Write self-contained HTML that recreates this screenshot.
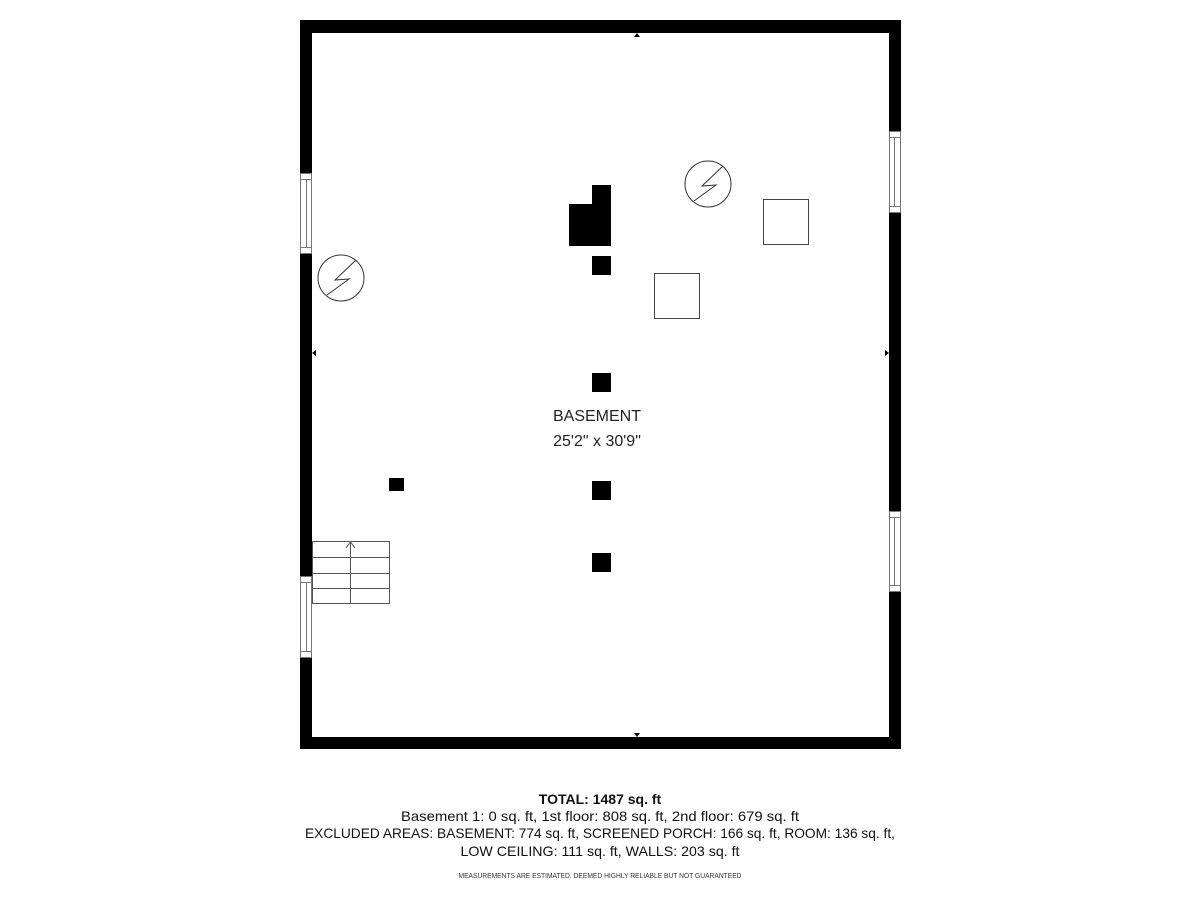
<!DOCTYPE html>
<html><head><style>html,body{margin:0;padding:0;background:#fff;}</style></head>
<body>
<svg width="1200" height="900" viewBox="0 0 1200 900" xmlns="http://www.w3.org/2000/svg" font-family="'Liberation Sans', sans-serif">
<rect width="1200" height="900" fill="#fff"/>
<!-- walls -->
<path fill="#000" fill-rule="evenodd" d="M300,20 H901 V749 H300 Z M312,33 V737 H889 V33 Z"/>
<!-- windows -->
<g fill="#fff" stroke="#777" stroke-width="1">
<rect x="300.5" y="173.5" width="11" height="80"/>
<rect x="300.5" y="576.5" width="11" height="81"/>
<rect x="889.5" y="131.5" width="11" height="81"/>
<rect x="889.5" y="511.5" width="11" height="80"/>
</g>
<g stroke="#777" stroke-width="1">
<line x1="300" y1="179.5" x2="312" y2="179.5"/><line x1="300" y1="247.5" x2="312" y2="247.5"/><line x1="306.5" y1="180" x2="306.5" y2="247"/>
<line x1="300" y1="582.5" x2="312" y2="582.5"/><line x1="300" y1="651.5" x2="312" y2="651.5"/><line x1="306.5" y1="583" x2="306.5" y2="651"/>
<line x1="889" y1="137.5" x2="901" y2="137.5"/><line x1="889" y1="206.5" x2="901" y2="206.5"/><line x1="894.5" y1="138" x2="894.5" y2="206"/>
<line x1="889" y1="517.5" x2="901" y2="517.5"/><line x1="889" y1="585.5" x2="901" y2="585.5"/><line x1="894.5" y1="518" x2="894.5" y2="585"/>
</g>
<!-- small markers -->
<g fill="#000">
<polygon points="634,37 640,37 637,33"/>
<polygon points="634,733 640,733 637,737"/>
<polygon points="316,350 316,356 312,353"/>
<polygon points="885,350 885,356 889,353"/>
</g>
<!-- chimney & posts -->
<g fill="#000">
<polygon points="569,204 592,204 592,185 611,185 611,246 569,246"/>
<rect x="592" y="256" width="19" height="19"/>
<rect x="592" y="373" width="19" height="19"/>
<rect x="592" y="481" width="19" height="19"/>
<rect x="592" y="553" width="19" height="19"/>
<rect x="389" y="478" width="15" height="13"/>
</g>
<!-- boxes -->
<g fill="none" stroke="#444" stroke-width="1">
<rect x="763.5" y="199.5" width="45" height="45"/>
<rect x="654.5" y="273.5" width="45" height="45"/>
</g>
<!-- water heater symbols -->
<g fill="none" stroke="#333" stroke-width="1">
<circle cx="708" cy="184" r="23"/>
<polyline points="694,201 716,185 702,186 723,166"/>
<circle cx="341" cy="278" r="23"/>
<polyline points="327,295 349,279 335,280 356,260"/>
</g>
<!-- stairs -->
<g fill="none" stroke="#555" stroke-width="1">
<rect x="312.5" y="541.5" width="77" height="62"/>
<line x1="312" y1="557.5" x2="390" y2="557.5"/>
<line x1="312" y1="573.5" x2="390" y2="573.5"/>
<line x1="312" y1="588.5" x2="390" y2="588.5"/>
<line x1="350.5" y1="542" x2="350.5" y2="603"/>
<polyline points="346,548 350.5,542 355,548"/>
</g>
<!-- labels -->
<text x="597" y="421" text-anchor="middle" font-size="16" fill="#222">BASEMENT</text>
<text x="597" y="446" text-anchor="middle" font-size="16" fill="#222">25'2" x 30'9"</text>
<text x="600" y="804" text-anchor="middle" font-size="14" font-weight="bold" fill="#111">TOTAL: 1487 sq. ft</text>
<text x="600" y="821" text-anchor="middle" font-size="14" fill="#111" textLength="398" lengthAdjust="spacingAndGlyphs">Basement 1: 0 sq. ft, 1st floor: 808 sq. ft, 2nd floor: 679 sq. ft</text>
<text x="600" y="838" text-anchor="middle" font-size="14" fill="#111" textLength="590" lengthAdjust="spacingAndGlyphs">EXCLUDED AREAS: BASEMENT: 774 sq. ft, SCREENED PORCH: 166 sq. ft, ROOM: 136 sq. ft,</text>
<text x="600" y="856" text-anchor="middle" font-size="14" fill="#111" textLength="279" lengthAdjust="spacingAndGlyphs">LOW CEILING: 111 sq. ft, WALLS: 203 sq. ft</text>
<text x="600" y="878" text-anchor="middle" font-size="7" fill="#333" textLength="283" lengthAdjust="spacingAndGlyphs">MEASUREMENTS ARE ESTIMATED. DEEMED HIGHLY RELIABLE BUT NOT GUARANTEED</text>
</svg>
</body></html>
